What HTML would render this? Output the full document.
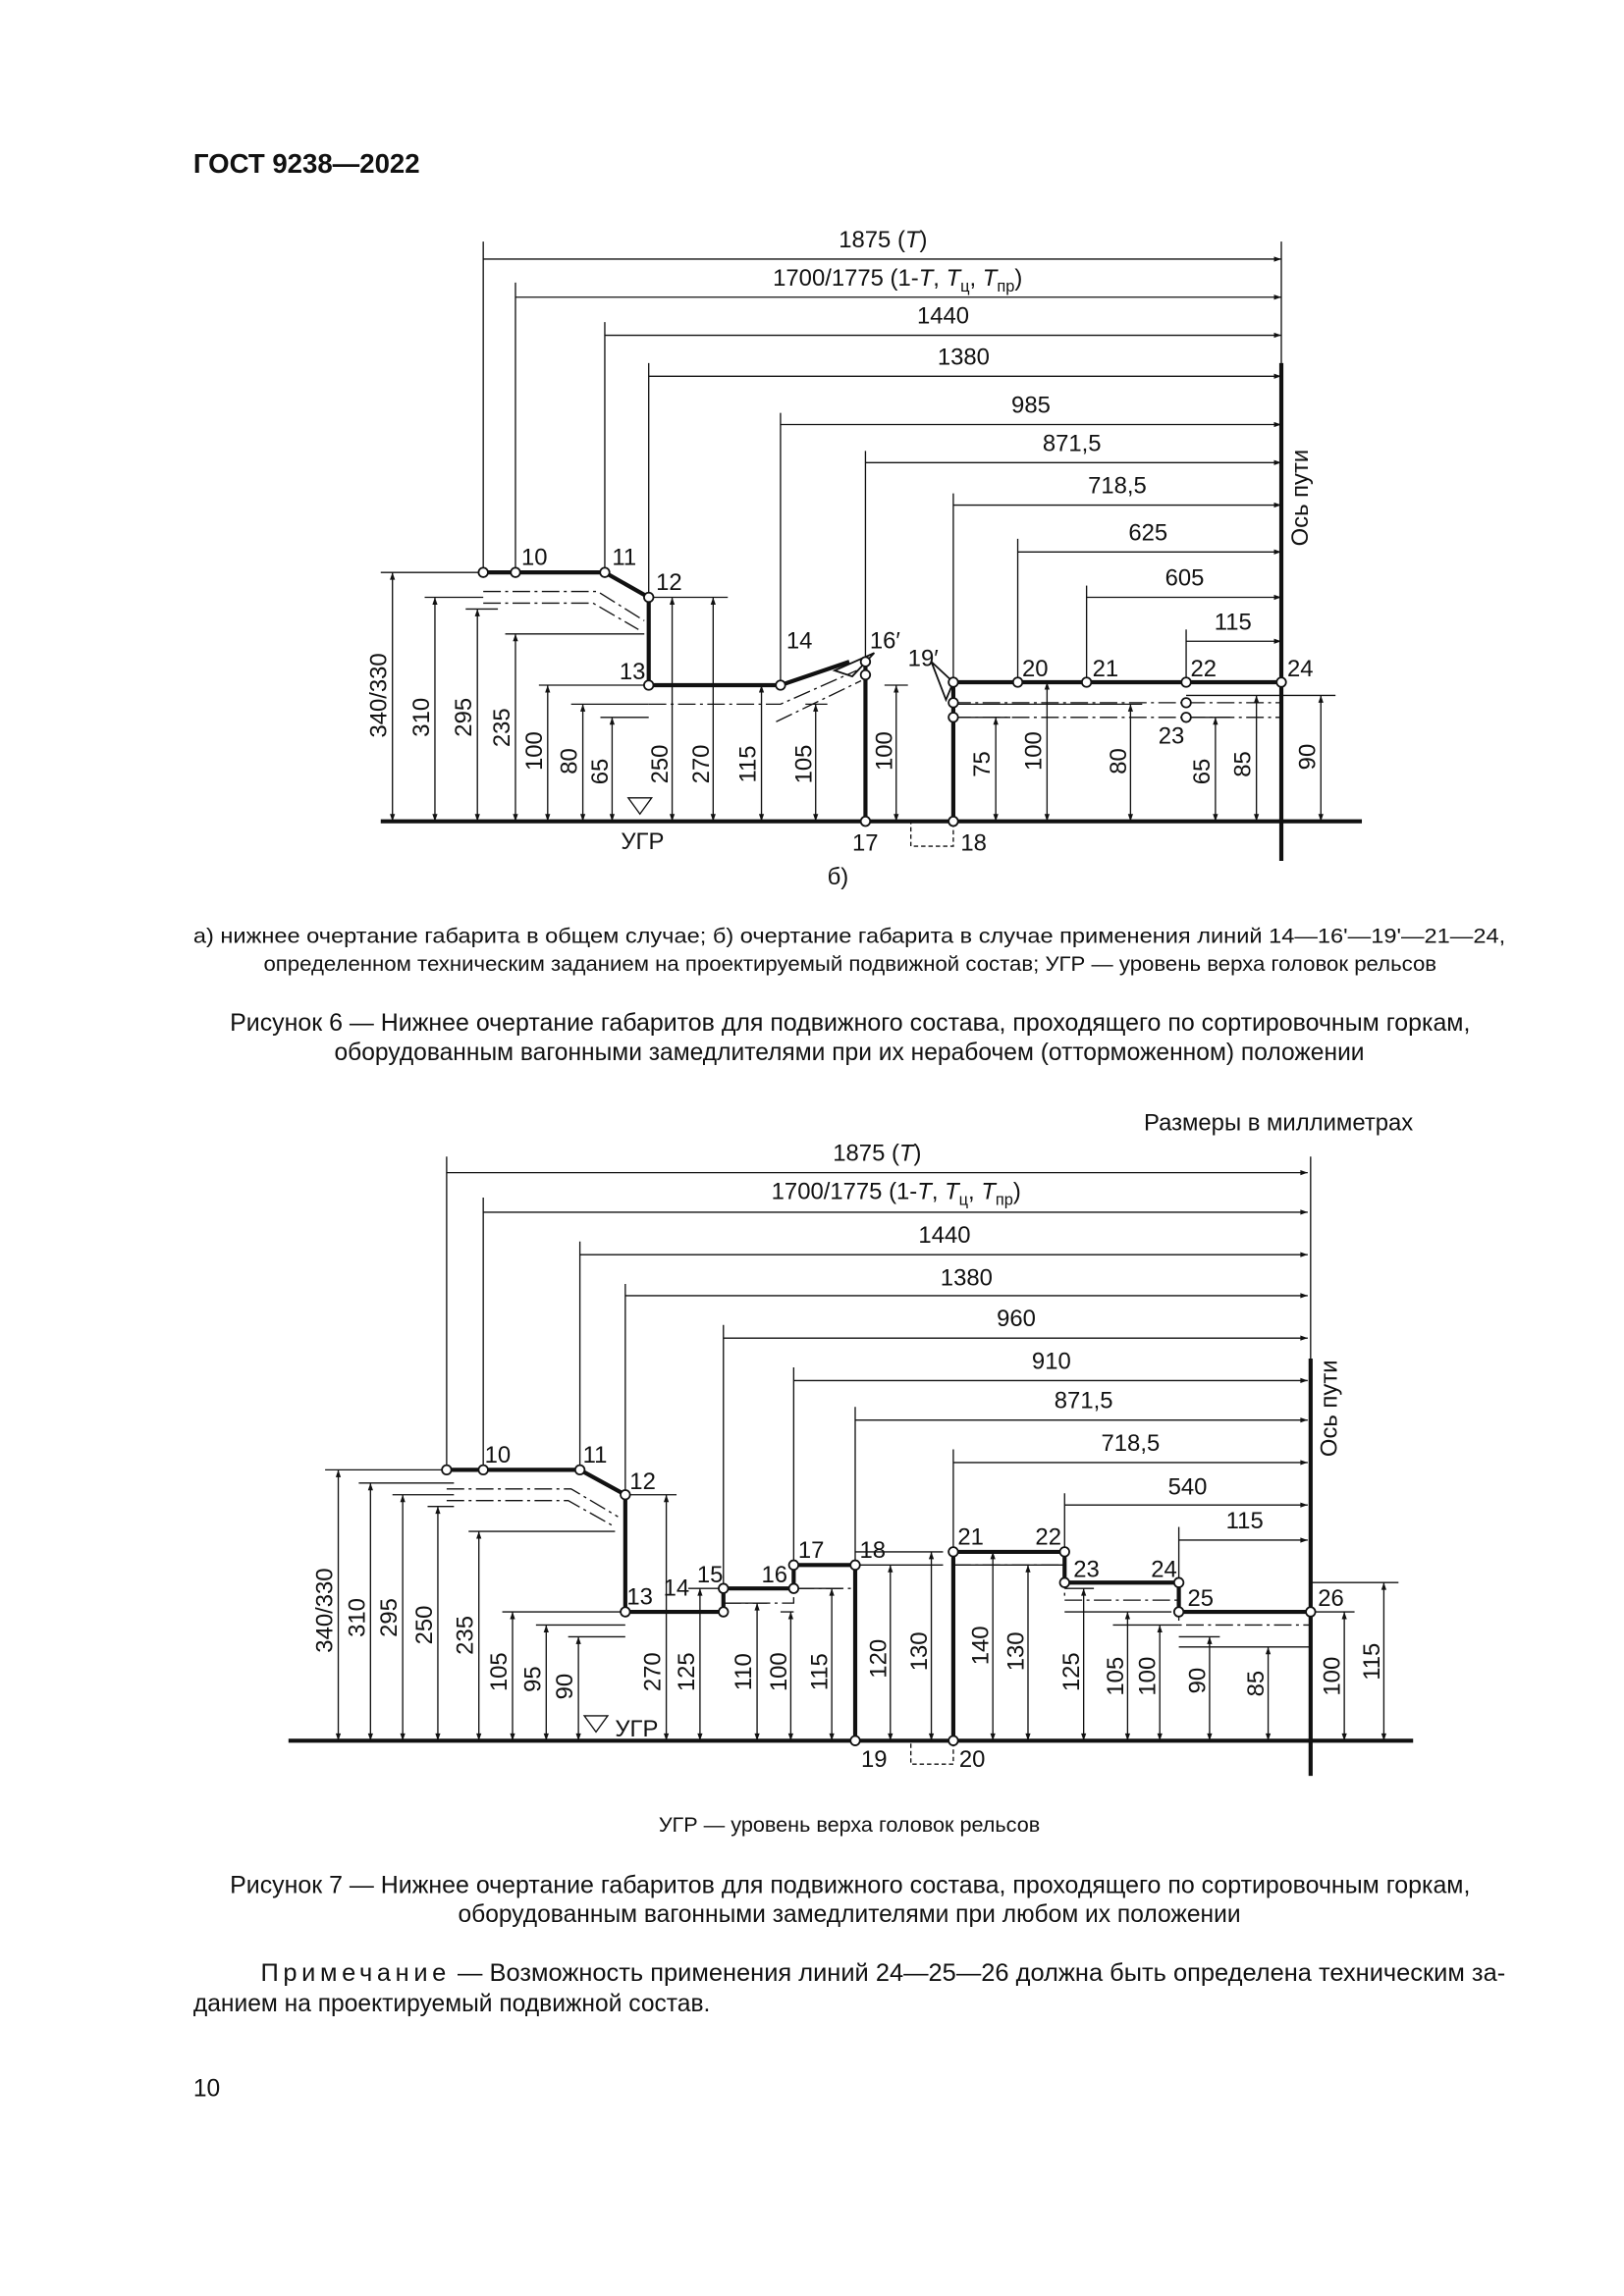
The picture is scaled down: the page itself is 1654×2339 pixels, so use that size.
<!DOCTYPE html>
<html><head><meta charset="utf-8"><style>
html,body{margin:0;padding:0;background:#fff}
svg{display:block}
text{font-family:"Liberation Sans",sans-serif;fill:#111}
</style></head><body>
<svg width="1654" height="2339" viewBox="0 0 1109 1568.3" xmlns="http://www.w3.org/2000/svg">
<defs>
<marker id="a" viewBox="0 0 10 10" refX="10" refY="5" markerWidth="9" markerHeight="5" orient="auto-start-reverse" markerUnits="userSpaceOnUse"><path d="M0,1.5L10,5L0,8.5z" fill="#111"/></marker>
</defs>
<rect width="1109" height="1569" fill="#fff"/>
<text x="132" y="118" font-size="18.5" font-weight="bold">ГОСТ 9238—2022</text>

<!-- FIGURE 1 -->
<g stroke="#111" stroke-width="0.9" fill="none">
<line x1="330" y1="177" x2="875" y2="177" marker-end="url(#a)"/>
<line x1="352" y1="203" x2="875" y2="203" marker-end="url(#a)"/>
<line x1="413" y1="229" x2="875" y2="229" marker-end="url(#a)"/>
<line x1="443" y1="257" x2="875" y2="257" marker-end="url(#a)"/>
<line x1="533" y1="290" x2="875" y2="290" marker-end="url(#a)"/>
<line x1="591" y1="316" x2="875" y2="316" marker-end="url(#a)"/>
<line x1="651" y1="345" x2="875" y2="345" marker-end="url(#a)"/>
<line x1="695" y1="377" x2="875" y2="377" marker-end="url(#a)"/>
<line x1="742" y1="408" x2="875" y2="408" marker-end="url(#a)"/>
<line x1="810" y1="438" x2="875" y2="438" marker-end="url(#a)"/>
<line x1="330" y1="165" x2="330" y2="391"/>
<line x1="352" y1="193" x2="352" y2="391"/>
<line x1="413" y1="220" x2="413" y2="391"/>
<line x1="443" y1="248" x2="443" y2="408"/>
<line x1="533" y1="282" x2="533" y2="468"/>
<line x1="591" y1="308" x2="591" y2="452"/>
<line x1="651" y1="337" x2="651" y2="466"/>
<line x1="695" y1="368" x2="695" y2="466"/>
<line x1="742" y1="400" x2="742" y2="466"/>
<line x1="810" y1="430" x2="810" y2="466"/>
<line x1="875" y1="165" x2="875" y2="250"/>
<line x1="260" y1="391" x2="330" y2="391"/>
<line x1="290" y1="408" x2="330" y2="408"/>
<line x1="318" y1="416" x2="340" y2="416"/>
<line x1="345" y1="433" x2="440" y2="433"/>
<line x1="368" y1="468" x2="443" y2="468"/>
<line x1="390" y1="481" x2="443" y2="481"/>
<line x1="410" y1="490" x2="443" y2="490"/>
<line x1="443" y1="408" x2="497" y2="408"/>
<line x1="512" y1="468" x2="533" y2="468"/>
<line x1="550" y1="481" x2="565" y2="481"/>
<line x1="604" y1="468" x2="620" y2="468"/>
<line x1="651" y1="490" x2="690" y2="490"/>
<line x1="651" y1="481" x2="780" y2="481"/>
<line x1="810" y1="490" x2="840" y2="490"/>
<line x1="810" y1="475" x2="912" y2="475"/>
<g marker-start="url(#a)" marker-end="url(#a)">
<line x1="268" y1="391" x2="268" y2="561"/>
<line x1="297" y1="408" x2="297" y2="561"/>
<line x1="326" y1="416" x2="326" y2="561"/>
<line x1="352" y1="433" x2="352" y2="561"/>
<line x1="374" y1="468" x2="374" y2="561"/>
<line x1="398" y1="481" x2="398" y2="561"/>
<line x1="418" y1="490" x2="418" y2="561"/>
<line x1="459" y1="408" x2="459" y2="561"/>
<line x1="487" y1="408" x2="487" y2="561"/>
<line x1="520" y1="468" x2="520" y2="561"/>
<line x1="557" y1="481" x2="557" y2="561"/>
<line x1="612" y1="468" x2="612" y2="561"/>
<line x1="680" y1="490" x2="680" y2="561"/>
<line x1="715" y1="466" x2="715" y2="561"/>
<line x1="772" y1="481" x2="772" y2="561"/>
<line x1="830" y1="490" x2="830" y2="561"/>
<line x1="858" y1="475" x2="858" y2="561"/>
<line x1="902" y1="475" x2="902" y2="561"/>
</g>
<g stroke-dasharray="12,3,2,3">
<polyline points="330,404 408,404 440,424"/>
<polyline points="330,412 405,412 436,430"/>
<polyline points="443,481 533,481 585,458"/>
<polyline points="530,493 588,465"/>
<line x1="651" y1="480" x2="875" y2="480"/>
<line x1="651" y1="490" x2="875" y2="490"/>
</g>
<path d="M429,545 L445,545 L437,556 Z"/>
<rect x="622" y="561" width="29" height="17" stroke-dasharray="3,2"/>
</g>
<g stroke="#111" stroke-width="2.8" fill="none">
<polyline points="330,391 413,391 443,408 443,468 533,468 580,452"/>
<path d="M570,458 L597,446 L582,462 Z" stroke-width="1.2"/>
<line x1="591" y1="455" x2="591" y2="561"/>
<polyline points="651,561 651,466 875,466"/>
<path d="M636,452 L651,466 L646,478 Z" stroke-width="1.2"/>
<line x1="260" y1="561" x2="930" y2="561"/>
<line x1="875" y1="248" x2="875" y2="588"/>
</g>
<g fill="#fff" stroke="#111" stroke-width="1.2">
<circle cx="330" cy="391" r="3.2"/><circle cx="352" cy="391" r="3.2"/><circle cx="413" cy="391" r="3.2"/><circle cx="443" cy="408" r="3.2"/>
<circle cx="443" cy="468" r="3.2"/><circle cx="533" cy="468" r="3.2"/><circle cx="591" cy="452" r="3.2"/><circle cx="591" cy="461" r="3.2"/>
<circle cx="591" cy="561" r="3.2"/><circle cx="651" cy="561" r="3.2"/><circle cx="651" cy="466" r="3.2"/><circle cx="651" cy="480" r="3.2"/><circle cx="651" cy="490" r="3.2"/>
<circle cx="695" cy="466" r="3.2"/><circle cx="742" cy="466" r="3.2"/><circle cx="810" cy="466" r="3.2"/><circle cx="810" cy="480" r="3.2"/><circle cx="810" cy="490" r="3.2"/><circle cx="875" cy="466" r="3.2"/>
</g>
<g font-size="16" text-anchor="middle">
<text x="603" y="169">1875 (<tspan font-style="italic">T</tspan>)</text>
<text x="613" y="195">1700/1775 (1-<tspan font-style="italic">T</tspan>, <tspan font-style="italic">T</tspan><tspan font-size="11" dy="4">ц</tspan><tspan dy="-4">, </tspan><tspan font-style="italic">T</tspan><tspan font-size="11" dy="4">пр</tspan><tspan dy="-4">)</tspan></text>
<text x="644" y="221">1440</text><text x="658" y="249">1380</text><text x="704" y="282">985</text>
<text x="732" y="308">871,5</text><text x="763" y="337">718,5</text><text x="784" y="369">625</text>
<text x="809" y="400">605</text><text x="842" y="430">115</text>
</g>
<g font-size="16">
<text x="356" y="386">10</text><text x="418" y="386">11</text><text x="448" y="403">12</text>
<text x="423" y="464">13</text><text x="537" y="443">14</text><text x="594" y="443">16′</text>
<text x="620" y="455">19′</text><text x="698" y="462">20</text><text x="746" y="462">21</text>
<text x="813" y="462">22</text><text x="879" y="462">24</text><text x="791" y="508">23</text>
<text x="424" y="580">УГР</text><text x="582" y="581">17</text><text x="656" y="581">18</text>
<text x="565" y="604">б)</text>
</g>
<g font-size="16" text-anchor="middle">
<text transform="translate(264,475) rotate(-90)">340/330</text>
<text transform="translate(293,490) rotate(-90)">310</text>
<text transform="translate(322,490) rotate(-90)">295</text>
<text transform="translate(348,497) rotate(-90)">235</text>
<text transform="translate(370,513) rotate(-90)">100</text>
<text transform="translate(394,520) rotate(-90)">80</text>
<text transform="translate(415,527) rotate(-90)">65</text>
<text transform="translate(456,522) rotate(-90)">250</text>
<text transform="translate(484,522) rotate(-90)">270</text>
<text transform="translate(516,522) rotate(-90)">115</text>
<text transform="translate(554,522) rotate(-90)">105</text>
<text transform="translate(609,513) rotate(-90)">100</text>
<text transform="translate(676,522) rotate(-90)">75</text>
<text transform="translate(711,513) rotate(-90)">100</text>
<text transform="translate(769,520) rotate(-90)">80</text>
<text transform="translate(826,527) rotate(-90)">65</text>
<text transform="translate(854,522) rotate(-90)">85</text>
<text transform="translate(898,517) rotate(-90)">90</text>
<text transform="translate(893,340) rotate(-90)">Ось пути</text>
</g>

<g font-size="14.5">
<text x="132" y="644" textLength="896" lengthAdjust="spacingAndGlyphs">а) нижнее очертание габарита в общем случае; б) очертание габарита в случае применения линий 14—16'—19'—21—24,</text>
<text x="180" y="663" textLength="801" lengthAdjust="spacingAndGlyphs">определенном техническим заданием на проектируемый подвижной состав; УГР — уровень верха головок рельсов</text>
</g>
<g font-size="16.5">
<text x="157" y="704" textLength="847" lengthAdjust="spacingAndGlyphs">Рисунок 6 — Нижнее очертание габаритов для подвижного состава, проходящего по сортировочным горкам,</text>
<text x="580" y="724" text-anchor="middle">оборудованным вагонными замедлителями при их нерабочем (отторможенном) положении</text>
</g>
<text x="965" y="772" font-size="16" text-anchor="end">Размеры в миллиметрах</text>

<!-- FIGURE 2 -->
<g stroke="#111" stroke-width="0.9" fill="none">
<line x1="305" y1="801" x2="893" y2="801" marker-end="url(#a)"/>
<line x1="330" y1="828" x2="893" y2="828" marker-end="url(#a)"/>
<line x1="396" y1="857" x2="893" y2="857" marker-end="url(#a)"/>
<line x1="427" y1="885" x2="893" y2="885" marker-end="url(#a)"/>
<line x1="494" y1="914" x2="893" y2="914" marker-end="url(#a)"/>
<line x1="542" y1="943" x2="893" y2="943" marker-end="url(#a)"/>
<line x1="584" y1="970" x2="893" y2="970" marker-end="url(#a)"/>
<line x1="651" y1="999" x2="893" y2="999" marker-end="url(#a)"/>
<line x1="727" y1="1028" x2="893" y2="1028" marker-end="url(#a)"/>
<line x1="805" y1="1052" x2="893" y2="1052" marker-end="url(#a)"/>
<line x1="305" y1="790" x2="305" y2="1004"/>
<line x1="330" y1="818" x2="330" y2="1004"/>
<line x1="396" y1="848" x2="396" y2="1004"/>
<line x1="427" y1="877" x2="427" y2="1021"/>
<line x1="494" y1="905" x2="494" y2="1085"/>
<line x1="542" y1="934" x2="542" y2="1069"/>
<line x1="584" y1="961" x2="584" y2="1069"/>
<line x1="651" y1="990" x2="651" y2="1060"/>
<line x1="727" y1="1020" x2="727" y2="1060"/>
<line x1="805" y1="1043" x2="805" y2="1081"/>
<line x1="895" y1="790" x2="895" y2="930"/>
<line x1="222" y1="1004" x2="305" y2="1004"/>
<line x1="245" y1="1013" x2="310" y2="1013"/>
<line x1="268" y1="1021" x2="310" y2="1021"/>
<line x1="292" y1="1029" x2="310" y2="1029"/>
<line x1="320" y1="1046" x2="420" y2="1046"/>
<line x1="343" y1="1101" x2="427" y2="1101"/>
<line x1="366" y1="1110" x2="427" y2="1110"/>
<line x1="388" y1="1118" x2="427" y2="1118"/>
<line x1="427" y1="1021" x2="462" y2="1021"/>
<line x1="470" y1="1085" x2="494" y2="1085"/>
<line x1="494" y1="1095" x2="524" y2="1095"/>
<line x1="533" y1="1101" x2="542" y2="1101"/>
<line x1="542" y1="1085" x2="575" y2="1085"/>
<line x1="584" y1="1069" x2="644" y2="1069"/>
<line x1="584" y1="1060" x2="644" y2="1060"/>
<line x1="651" y1="1069" x2="727" y2="1069"/>
<line x1="727" y1="1085" x2="747" y2="1085"/>
<line x1="727" y1="1101" x2="800" y2="1101"/>
<line x1="760" y1="1110" x2="805" y2="1110"/>
<line x1="805" y1="1118" x2="833" y2="1118"/>
<line x1="805" y1="1125" x2="895" y2="1125"/>
<line x1="895" y1="1101" x2="925" y2="1101"/>
<line x1="895" y1="1081" x2="955" y2="1081"/>
<g marker-start="url(#a)" marker-end="url(#a)">
<line x1="231" y1="1004" x2="231" y2="1189"/>
<line x1="253" y1="1013" x2="253" y2="1189"/>
<line x1="275" y1="1021" x2="275" y2="1189"/>
<line x1="299" y1="1029" x2="299" y2="1189"/>
<line x1="327" y1="1046" x2="327" y2="1189"/>
<line x1="350" y1="1101" x2="350" y2="1189"/>
<line x1="373" y1="1110" x2="373" y2="1189"/>
<line x1="395" y1="1118" x2="395" y2="1189"/>
<line x1="455" y1="1021" x2="455" y2="1189"/>
<line x1="478" y1="1085" x2="478" y2="1189"/>
<line x1="517" y1="1095" x2="517" y2="1189"/>
<line x1="540" y1="1101" x2="540" y2="1189"/>
<line x1="568" y1="1085" x2="568" y2="1189"/>
<line x1="608" y1="1069" x2="608" y2="1189"/>
<line x1="636" y1="1060" x2="636" y2="1189"/>
<line x1="678" y1="1060" x2="678" y2="1189"/>
<line x1="702" y1="1069" x2="702" y2="1189"/>
<line x1="740" y1="1085" x2="740" y2="1189"/>
<line x1="770" y1="1101" x2="770" y2="1189"/>
<line x1="792" y1="1110" x2="792" y2="1189"/>
<line x1="826" y1="1118" x2="826" y2="1189"/>
<line x1="866" y1="1125" x2="866" y2="1189"/>
<line x1="918" y1="1101" x2="918" y2="1189"/>
<line x1="945" y1="1081" x2="945" y2="1189"/>
</g>
<g stroke-dasharray="12,3,2,3">
<polyline points="305,1017 390,1017 422,1036"/>
<polyline points="305,1025 388,1025 420,1043"/>
<polyline points="494,1095 542,1095 542,1085 584,1085"/>
<polyline points="651,1069 727,1069 727,1093 805,1093 805,1110 895,1110"/>
</g>
<path d="M399,1172 L415,1172 L407,1183 Z"/>
<rect x="622" y="1189" width="29" height="16" stroke-dasharray="3,2"/>
</g>
<g stroke="#111" stroke-width="2.8" fill="none">
<polyline points="305,1004 396,1004 427,1021 427,1101 494,1101 494,1085 542,1085 542,1069 584,1069 584,1189"/>
<polyline points="651,1189 651,1060 727,1060 727,1081 805,1081 805,1101 895,1101"/>
<line x1="197" y1="1189" x2="965" y2="1189"/>
<line x1="895" y1="928" x2="895" y2="1213"/>
</g>
<g fill="#fff" stroke="#111" stroke-width="1.2">
<circle cx="305" cy="1004" r="3.2"/><circle cx="330" cy="1004" r="3.2"/><circle cx="396" cy="1004" r="3.2"/><circle cx="427" cy="1021" r="3.2"/>
<circle cx="427" cy="1101" r="3.2"/><circle cx="494" cy="1101" r="3.2"/><circle cx="494" cy="1085" r="3.2"/><circle cx="542" cy="1085" r="3.2"/>
<circle cx="542" cy="1069" r="3.2"/><circle cx="584" cy="1069" r="3.2"/><circle cx="584" cy="1189" r="3.2"/><circle cx="651" cy="1189" r="3.2"/>
<circle cx="651" cy="1060" r="3.2"/><circle cx="727" cy="1060" r="3.2"/><circle cx="727" cy="1081" r="3.2"/><circle cx="805" cy="1081" r="3.2"/>
<circle cx="805" cy="1101" r="3.2"/><circle cx="895" cy="1101" r="3.2"/>
</g>
<g font-size="16" text-anchor="middle">
<text x="599" y="793">1875 (<tspan font-style="italic">T</tspan>)</text>
<text x="612" y="819">1700/1775 (1-<tspan font-style="italic">T</tspan>, <tspan font-style="italic">T</tspan><tspan font-size="11" dy="4">ц</tspan><tspan dy="-4">, </tspan><tspan font-style="italic">T</tspan><tspan font-size="11" dy="4">пр</tspan><tspan dy="-4">)</tspan></text>
<text x="645" y="849">1440</text><text x="660" y="878">1380</text><text x="694" y="906">960</text>
<text x="718" y="935">910</text><text x="740" y="962">871,5</text><text x="772" y="991">718,5</text>
<text x="811" y="1021">540</text><text x="850" y="1044">115</text>
</g>
<g font-size="16">
<text x="331" y="999">10</text><text x="398" y="999">11</text><text x="430" y="1017">12</text>
<text x="428" y="1096">13</text><text x="453" y="1090">14</text><text x="476" y="1081">15</text>
<text x="520" y="1081">16</text><text x="545" y="1064">17</text><text x="587" y="1064">18</text>
<text x="654" y="1055">21</text><text x="707" y="1055">22</text><text x="733" y="1077">23</text>
<text x="786" y="1077">24</text><text x="811" y="1097">25</text><text x="900" y="1097">26</text>
<text x="420" y="1186">УГР</text><text x="588" y="1207">19</text><text x="655" y="1207">20</text>
</g>
<g font-size="16" text-anchor="middle">
<text transform="translate(227,1100) rotate(-90)">340/330</text>
<text transform="translate(249,1105) rotate(-90)">310</text>
<text transform="translate(271,1105) rotate(-90)">295</text>
<text transform="translate(295,1110) rotate(-90)">250</text>
<text transform="translate(323,1117) rotate(-90)">235</text>
<text transform="translate(346,1142) rotate(-90)">105</text>
<text transform="translate(369,1147) rotate(-90)">95</text>
<text transform="translate(391,1152) rotate(-90)">90</text>
<text transform="translate(451,1142) rotate(-90)">270</text>
<text transform="translate(474,1142) rotate(-90)">125</text>
<text transform="translate(513,1142) rotate(-90)">110</text>
<text transform="translate(537,1142) rotate(-90)">100</text>
<text transform="translate(565,1142) rotate(-90)">115</text>
<text transform="translate(605,1133) rotate(-90)">120</text>
<text transform="translate(633,1128) rotate(-90)">130</text>
<text transform="translate(675,1124) rotate(-90)">140</text>
<text transform="translate(699,1128) rotate(-90)">130</text>
<text transform="translate(737,1142) rotate(-90)">125</text>
<text transform="translate(767,1145) rotate(-90)">105</text>
<text transform="translate(789,1145) rotate(-90)">100</text>
<text transform="translate(823,1148) rotate(-90)">90</text>
<text transform="translate(863,1150) rotate(-90)">85</text>
<text transform="translate(915,1145) rotate(-90)">100</text>
<text transform="translate(942,1135) rotate(-90)">115</text>
<text transform="translate(913,962) rotate(-90)">Ось пути</text>
</g>

<text x="580" y="1251" font-size="14.5" text-anchor="middle">УГР — уровень верха головок рельсов</text>
<g font-size="16.5">
<text x="157" y="1293" textLength="847" lengthAdjust="spacingAndGlyphs">Рисунок 7 — Нижнее очертание габаритов для подвижного состава, проходящего по сортировочным горкам,</text>
<text x="580" y="1313" text-anchor="middle">оборудованным вагонными замедлителями при любом их положении</text>
<text x="178" y="1353" textLength="850" lengthAdjust="spacingAndGlyphs"><tspan letter-spacing="3">Примечание</tspan> — Возможность применения линий 24—25—26 должна быть определена техническим за-</text>
<text x="132" y="1374">данием на проектируемый подвижной состав.</text>
<text x="132" y="1432">10</text>
</g>
</svg>
</body></html>
